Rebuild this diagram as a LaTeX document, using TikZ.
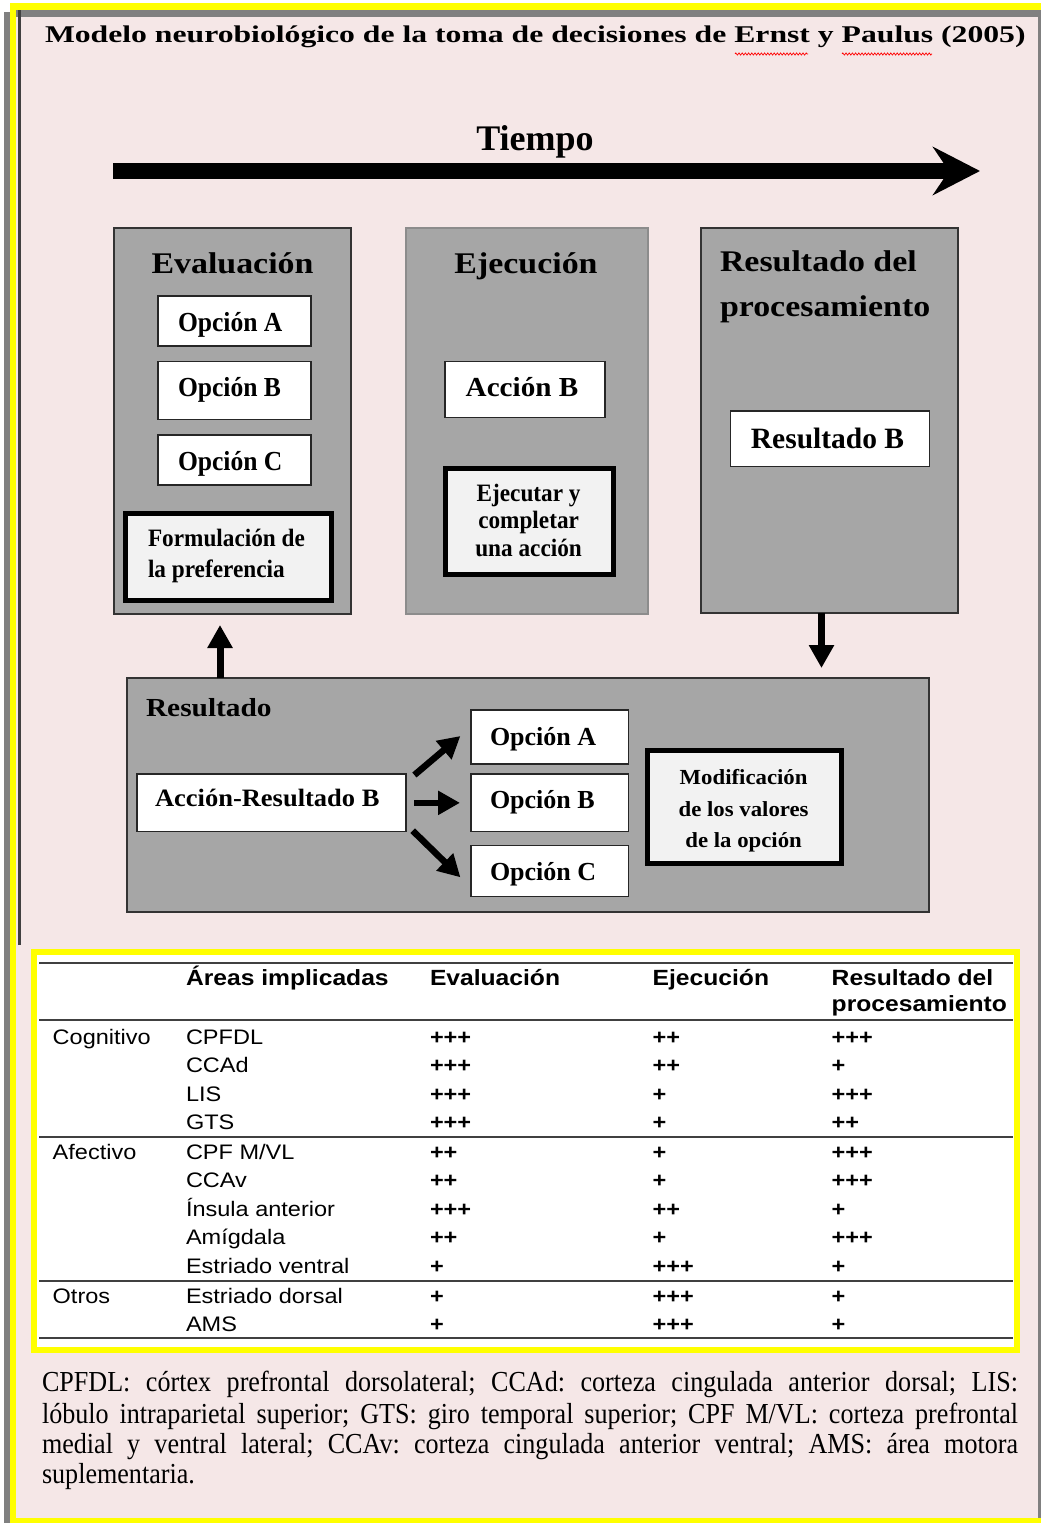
\documentclass[tikz,border=0pt]{standalone}
\usepackage{fontspec}
\setmainfont{Liberation Serif}
\newfontfamily\titlefam[FakeStretch=1.32]{Liberation Serif}
\newfontfamily\headfam[FakeStretch=1.13]{Liberation Serif}
\newfontfamily\narrowfam[FakeStretch=0.93]{Liberation Serif}
\newfontfamily\widefam[FakeStretch=1.06]{Liberation Serif}
\newfontfamily\tabfam[FakeStretch=1.12]{Liberation Sans}
\newfontfamily\notefam[FakeStretch=0.9]{Liberation Serif}
\usetikzlibrary{arrows.meta,decorations.pathmorphing}

\definecolor{pagepink}{HTML}{F5E7E7}
\definecolor{panelgray}{HTML}{A6A6A6}
\definecolor{framegray}{HTML}{808080}
\definecolor{paleface}{HTML}{F2F2F2}
\definecolor{rulegray}{HTML}{404040}
\definecolor{markyellow}{HTML}{FFFF00}

\newcommand\sz[1]{\fontsize{#1}{#1}\selectfont}

% one row of the table: name, baseline, area, evaluation, execution, result
\newcommand\tabrow[6]{%
  \node[cell] (#1a) at (186,#2) {#3};
  \node[cell,font=\tabfam\bfseries\sz{21}] (#1b) at (430,#2) {#4};
  \node[cell,font=\tabfam\bfseries\sz{21}] (#1c) at (652.7,#2) {#5};
  \node[cell,font=\tabfam\bfseries\sz{21}] (#1d) at (831.7,#2) {#6};
}

\tikzset{
  panel/.style={draw=#1, line width=2pt, fill=panelgray, anchor=north west, inner sep=0pt, outer sep=0pt},
  whitebox/.style={draw=black!85, line width=1.5pt, fill=white, anchor=north west, inner sep=0pt, outer sep=0pt},
  heavybox/.style={draw=black, line width=5pt, fill=paleface, anchor=north west, inner sep=0pt, outer sep=0pt},
  txt/.style={inner sep=0pt, outer sep=0pt, anchor=base},
  txtl/.style={inner sep=0pt, outer sep=0pt, anchor=base west},
  cell/.style={inner sep=0pt, outer sep=0pt, anchor=base west, font=\tabfam\sz{21}},
  hcell/.style={inner sep=0pt, outer sep=0pt, anchor=base west, font=\tabfam\bfseries\sz{22}},
  fatarrow/.style={line width=7pt, -{Triangle[length=23pt,width=24pt]}},
  linkarrow/.style={line width=6.5pt, -{Triangle[length=22pt,width=23pt]}},
  tablerule/.style={draw=rulegray, line width=2pt},
  squiggle/.style={draw=red, line width=0.7pt, decorate, decoration={zigzag, amplitude=1.1pt, segment length=3.2pt}},
}

\begin{document}
\frenchspacing
\begin{tikzpicture}[x=1pt,y=-1pt]
\useasboundingbox (0,0) rectangle (1041,1523);

% page frame: pink sheet, yellow border, grey shadow bands
\fill[pagepink] (16,10) rectangle (1041,1518);
\fill[markyellow] (10,3) rectangle (1041,10);
\fill[markyellow] (10,3) rectangle (16,1523);
\fill[markyellow] (10,1518) rectangle (1041,1523);
\fill[framegray] (4,12) rectangle (10,1523);
\fill[framegray] (16,10) rectangle (1041,16.7);
\fill[framegray] (1037.5,10) rectangle (1041,1518);
\fill[rulegray] (18.3,10) rectangle (21.3,945);

% title
\node[txtl, font=\titlefam\bfseries\sz{24}] (title) at (45,42.5)
  {Modelo neurobiológico de la toma de decisiones de Ernst y Paulus (2005)};
\draw[squiggle] (735,54) -- (808,54);
\draw[squiggle] (842,54) -- (932,54);

% time axis
\node[txt, font=\bfseries\sz{36}] (tiempo) at (535,150) {Tiempo};
\coordinate (tstart) at (113,171);
\coordinate (tend) at (980,171);
\draw[line width=16pt, -{Stealth[length=47pt,width=48pt,inset=16pt]}] (tstart) -- (tend);

% three stage panels
\node[panel=black!80, minimum width=237pt, minimum height=386pt] (eval) at (114,228) {};
\node[panel=black!45, minimum width=242pt, minimum height=386pt] (exec) at (406,228) {};
\node[panel=black!80, minimum width=256.5pt, minimum height=385.3pt] (proc) at (701,228) {};

\node[txt, font=\headfam\bfseries\sz{30}] (evalT) at (232.5,273) {Evaluación};
\node[txt, font=\headfam\bfseries\sz{30}] (execT) at (526,273) {Ejecución};
\node[txtl, font=\headfam\bfseries\sz{30}] (procT1) at (720,271.7) {Resultado del};
\node[txtl, font=\headfam\bfseries\sz{30}] (procT2) at (720,316.7) {procesamiento};

% evaluation contents
\node[whitebox, minimum width=153pt, minimum height=50pt] (optA) at (158,296) {};
\node[whitebox, minimum width=153pt, minimum height=58pt] (optB) at (158,361.5) {};
\node[whitebox, minimum width=153pt, minimum height=50pt] (optC) at (158,435) {};
\node[txtl, font=\narrowfam\bfseries\sz{27.5}] (optAT) at (178,331.7) {Opción A};
\node[txtl, font=\narrowfam\bfseries\sz{27.5}] (optBT) at (178,396.7) {Opción B};
\node[txtl, font=\narrowfam\bfseries\sz{27.5}] (optCT) at (178,470) {Opción C};
\node[heavybox, minimum width=206pt, minimum height=86.7pt] (pref) at (125.5,513.5) {};
\node[txtl, font=\narrowfam\bfseries\sz{25}] (prefT1) at (148,546.7) {Formulación de};
\node[txtl, font=\narrowfam\bfseries\sz{25}] (prefT2) at (148,577) {la preferencia};

% execution contents
\node[whitebox, minimum width=160pt, minimum height=55.6pt] (actB) at (445,361.7) {};
\node[txt, font=\widefam\bfseries\sz{27.5}] (actBT) at (522,396.7) {Acción B};
\node[heavybox, minimum width=168pt, minimum height=105.7pt] (doit) at (445.5,468.5) {};
\node[txt, font=\narrowfam\bfseries\sz{25}] (doitT1) at (528.6,501.7) {Ejecutar y};
\node[txt, font=\narrowfam\bfseries\sz{25}] (doitT2) at (528.6,528.3) {completar};
\node[txt, font=\narrowfam\bfseries\sz{25}] (doitT3) at (528.6,556) {una acción};

% processing contents
\node[whitebox, minimum width=198.6pt, minimum height=55.7pt] (resB) at (730.7,411) {};
\node[txt, font=\bfseries\sz{29.5}] (resBT) at (827.5,448.3) {Resultado B};

% outcome panel
\node[panel=black!80, minimum width=802pt, minimum height=234pt] (res) at (127,678.3) {};
\node[txtl, font=\headfam\bfseries\sz{26}] (resT) at (146,716.7) {Resultado};
\node[whitebox, minimum width=269pt, minimum height=57.7pt] (ar) at (137,774) {};
\node[txtl, font=\widefam\bfseries\sz{25}] (arT) at (155,806.7) {Acción-Resultado B};
\node[whitebox, minimum width=157.5pt, minimum height=54pt] (optA2) at (471,710) {};
\node[whitebox, minimum width=157.5pt, minimum height=57.7pt] (optB2) at (471,774) {};
\node[whitebox, minimum width=157.5pt, minimum height=51.4pt] (optC2) at (471,845.3) {};
\node[txtl, font=\bfseries\sz{26}] (optA2T) at (490,745) {Opción A};
\node[txtl, font=\bfseries\sz{26}] (optB2T) at (490,808.3) {Opción B};
\node[txtl, font=\bfseries\sz{26}] (optC2T) at (490,880) {Opción C};
\node[heavybox, minimum width=193.9pt, minimum height=112.7pt] (mod) at (647.2,750.8) {};
\node[txt, font=\widefam\bfseries\sz{21.5}] (modT1) at (743.6,784) {Modificación};
\node[txt, font=\widefam\bfseries\sz{21.5}] (modT2) at (743.6,816.7) {de los valores};
\node[txt, font=\widefam\bfseries\sz{21.5}] (modT3) at (743.6,847.3) {de la opción};

% feedback arrows between panels
\coordinate (upx) at (220,0);
\coordinate (downx) at (821.5,0);
\draw[fatarrow, shorten >=11pt] (res.north -| upx) -- (eval.south -| upx);
\draw[fatarrow, shorten >=10.3pt] (proc.south -| downx) -- (res.north -| downx);

% action-outcome to the three options
\draw[linkarrow] ([shift={(8.4,1)}]ar.north east) -- ([shift={(-10.6,-1)}]optA2.west);
\draw[linkarrow] ([xshift=8pt]ar.east) -- ([xshift=-11pt]optB2.west);
\draw[linkarrow] ([shift={(6.7,-1)}]ar.south east) -- ([shift={(-10.6,-19.4)}]optC2.south west);

% table of implicated areas
\draw[markyellow, line width=6pt, fill=white] (34,952) rectangle (1016.5,1350);
\draw[tablerule] (39.3,962.7) -- (1013,962.7);
\draw[tablerule] (39.3,1020) -- (1013,1020);
\draw[tablerule] (39.3,1136.7) -- (1013,1136.7);
\draw[tablerule] (39.3,1280.7) -- (1013,1280.7);
\draw[tablerule] (39.3,1338.3) -- (1013,1338.3);

\node[hcell] (hArea) at (186,985) {Áreas implicadas};
\node[hcell] (hEval) at (430,985) {Evaluación};
\node[hcell] (hExec) at (652.7,985) {Ejecución};
\node[hcell] (hRes1) at (831.7,985) {Resultado del};
\node[hcell] (hRes2) at (831.7,1011.7) {procesamiento};

\node[cell] (gCog) at (52.7,1044) {Cognitivo};
\node[cell] (gAff) at (52.7,1159.3) {Afectivo};
\node[cell] (gOth) at (52.7,1303.3) {Otros};

\tabrow{rA}{1044}{CPFDL}{+++}{++}{+++}
\tabrow{rB}{1072.7}{CCAd}{+++}{++}{+}
\tabrow{rC}{1101}{LIS}{+++}{+}{+++}
\tabrow{rD}{1129.3}{GTS}{+++}{+}{++}
\tabrow{rE}{1159.3}{CPF M/VL}{++}{+}{+++}
\tabrow{rF}{1187.7}{CCAv}{++}{+}{+++}
\tabrow{rG}{1216.7}{Ínsula anterior}{+++}{++}{+}
\tabrow{rH}{1244.3}{Amígdala}{++}{+}{+++}
\tabrow{rI}{1273.3}{Estriado ventral}{+}{+++}{+}
\tabrow{rJ}{1303.3}{Estriado dorsal}{+}{+++}{+}
\tabrow{rK}{1331.7}{AMS}{+}{+++}{+}

% abbreviations
\node[txtl, font=\notefam\sz{29}] (note1) at (42,1391.7)
  {\makebox[976pt][s]{CPFDL: córtex prefrontal dorsolateral; CCAd: corteza cingulada anterior dorsal; LIS:}};
\node[txtl, font=\notefam\sz{29}] (note2) at (42,1423)
  {\makebox[976pt][s]{lóbulo intraparietal superior; GTS: giro temporal superior; CPF M/VL: corteza prefrontal}};
\node[txtl, font=\notefam\sz{29}] (note3) at (42,1453)
  {\makebox[976pt][s]{medial y ventral lateral; CCAv: corteza cingulada anterior ventral; AMS: área motora}};
\node[txtl, font=\notefam\sz{29}] (note4) at (42,1483) {suplementaria.};
\end{tikzpicture}
\end{document}
